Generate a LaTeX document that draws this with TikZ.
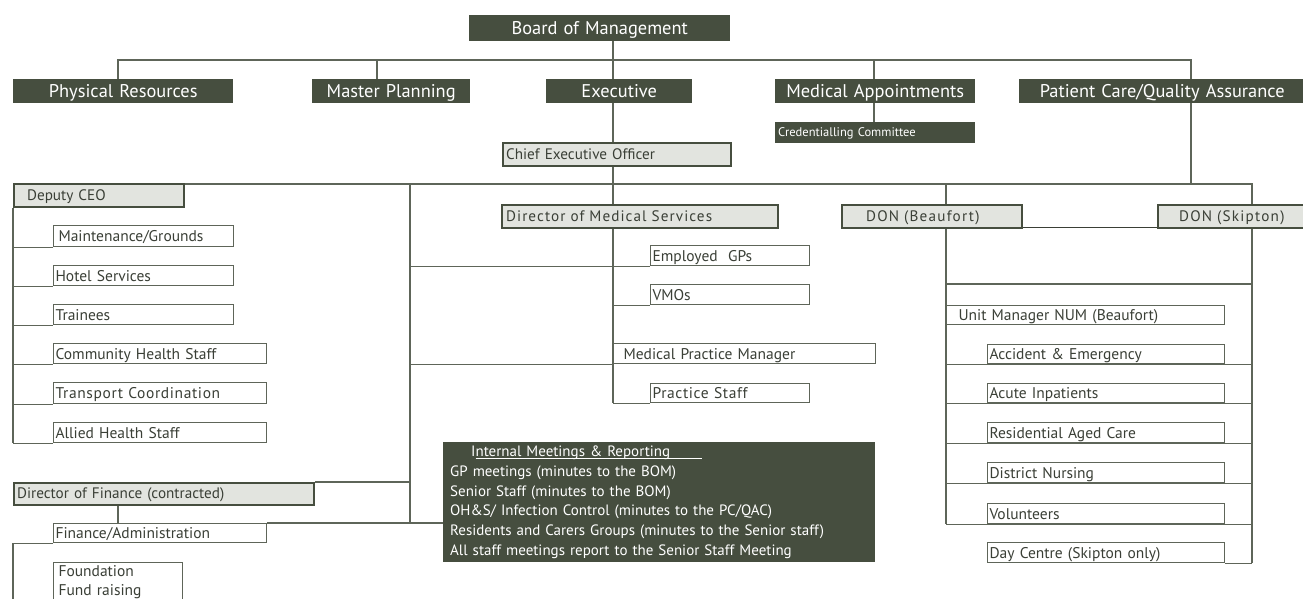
\documentclass[tikz,border=0pt]{standalone}
\usepackage{fontspec}
\setmainfont{PT Sans}
\usetikzlibrary{backgrounds}
\definecolor{darkbox}{HTML}{464E3F}
\definecolor{lightfill}{HTML}{E2E4DF}
\definecolor{linegray}{HTML}{5E6559}
\definecolor{txtgray}{HTML}{3A3F36}
\tikzset{
  base/.style={anchor=north west, inner xsep=0pt, inner ysep=0pt},
  dbox/.style={base, fill=darkbox, text=white, align=center, text height=14pt, text depth=2pt, font=\fontsize{18.4}{20}\selectfont},
  dsmall/.style={base, fill=darkbox, text=white, align=left, text height=10pt, text depth=2pt, font=\fontsize{12.5}{14}\selectfont},
  lbox/.style={base, fill=lightfill, draw=darkbox, line width=2.2pt, text=txtgray, align=left, text height=12pt, text depth=3pt, font=\fontsize{15.2}{17}\selectfont},
  wbox/.style={base, fill=white, draw=linegray, line width=1.1pt, text=txtgray, align=left, text height=12.5pt, text depth=1.5pt, font=\fontsize{15.5}{17}\selectfont},
  fbox/.style={base, fill=white, draw=linegray, line width=1.1pt, text=txtgray, align=left, font=\fontsize{15.5}{19}\selectfont},
  infobox/.style={base, fill=darkbox, text=white, align=left, font=\fontsize{15}{19.8}\selectfont},
  conn/.style={draw=linegray, line width=1.1pt},
}
% name, style, x1, y1, x2, y2, indent, text
\newcommand\bx[8]{%
  \pgfmathsetmacro\bxw{#5-#3}%
  \pgfmathsetmacro\bxh{#6-#4}%
  \node[#2, text width=\bxw pt, minimum height=\bxh pt] (#1) at (#3,#4) {\hspace*{#7pt}#8};%
}
\begin{document}
\begin{tikzpicture}[x=1pt,y=-1pt]
\useasboundingbox (0,0) rectangle (1303,599);
\clip (0,0) rectangle (1303,599);
% guide coordinates
\coordinate (sp) at (613,0);
\coordinate (xPR) at (118,0);
\coordinate (xMP) at (377,0);
\coordinate (xMA) at (874,0);
\coordinate (xPC) at (1191,0);
\coordinate (xL) at (13,0);
\coordinate (xM) at (410,0);
\coordinate (xB) at (946,0);
\coordinate (xS) at (1252,0);
\coordinate (yBus) at (0,60);
\coordinate (yBus2) at (0,184);
\coordinate (yR) at (0,284);
% top levels
\bx{board}{dbox}{469}{15}{730}{41}{0}{Board of Management}
\bx{phys}{dbox}{13}{79}{233}{103}{0}{Physical Resources}
\bx{mplan}{dbox}{312}{79}{470}{103}{0}{Master Planning}
\bx{exec}{dbox}{546}{79}{692}{103}{0}{Executive}
\bx{medapp}{dbox}{775}{79}{975}{103}{0}{Medical Appointments}
\bx{pcqa}{dbox}{1019}{79}{1305}{103}{0}{Patient Care/Quality Assurance}
\bx{cred}{dsmall}{775}{122}{975}{143}{3}{Credentialling Committee}
% light boxes
\bx{ceo}{lbox}{502}{142}{730}{165}{3}{Chief Executive Officer}
\bx{dceo}{lbox}{13}{183}{183}{206}{13}{Deputy CEO}
\bx{dms}{lbox}{501}{204}{777}{227}{4}{\addfontfeatures{LetterSpace=7}Director of Medical Services}
\bx{donb}{lbox}{841}{204}{1021}{227}{24}{\addfontfeatures{LetterSpace=8}DON (Beaufort)}
\bx{dons}{lbox}{1157}{204}{1305}{227}{21}{\addfontfeatures{LetterSpace=8}DON (Skipton)}
\bx{dfin}{lbox}{13}{482}{313}{504}{3}{Director of Finance (contracted)}
% deputy CEO column
\bx{maint}{wbox}{53}{225}{233}{246}{5}{Maintenance/Grounds}
\bx{hotel}{wbox}{53}{265}{233}{285}{2}{Hotel Services}
\bx{train}{wbox}{53}{304}{233}{324}{2}{Trainees}
\bx{comm}{wbox}{53}{343}{266}{363}{2}{Community Health Staff}
\bx{trans}{wbox}{53}{382}{266}{403}{2}{\addfontfeatures{LetterSpace=4}Transport Coordination}
\bx{allied}{wbox}{53}{422}{266}{442}{2}{Allied Health Staff}
\bx{fin}{wbox}{53}{523}{266}{542}{2}{Finance/Administration}
\node[fbox, text width=129pt, minimum height=39pt] (found) at (53,562) {\hspace*{5pt}Foundation\\\hspace*{5pt}Fund raising};
% medical column
\bx{egp}{wbox}{650}{245}{809}{265}{2}{Employed\ \ GPs}
\bx{vmo}{wbox}{650}{284}{809}{304}{2}{VMOs}
\bx{mpm}{wbox}{613}{343}{875}{363}{10}{Medical Practice Manager}
\bx{pstaff}{wbox}{650}{383}{809}{402}{2}{\addfontfeatures{LetterSpace=4}Practice Staff}
% nursing column
\bx{num}{wbox}{946}{305}{1224}{324}{12}{Unit Manager NUM (Beaufort)}
\bx{ae}{wbox}{987}{344}{1224}{363}{2}{Accident \& Emergency}
\bx{acute}{wbox}{987}{383}{1224}{402}{2}{Acute Inpatients}
\bx{resid}{wbox}{987}{422}{1224}{442}{2}{Residential Aged Care}
\bx{district}{wbox}{987}{462}{1224}{482}{2}{District Nursing}
\bx{volun}{wbox}{987}{503}{1224}{523}{2}{Volunteers}
\bx{dayc}{wbox}{987}{542}{1224}{562}{2}{Day Centre (Skipton only)}
% info box
\node[infobox, text width=432pt, minimum height=120pt] (info) at (443,442)
 {\hspace*{7pt}\hspace*{21pt}I\rlap{\rule[-2pt]{226pt}{0.9pt}}nternal Meetings \& Reporting\\
  \hspace*{7pt}GP meetings (minutes to the BOM)\\
  \hspace*{7pt}Senior Staff (minutes to the BOM)\\
  \hspace*{7pt}OH\&S/ Infection Control (minutes to the PC/QAC)\\
  \hspace*{7pt}Residents and Carers Groups (minutes to the Senior staff)\\
  \hspace*{7pt}All staff meetings report to the Senior Staff Meeting};
% connectors
\begin{pgfonlayer}{background}
\draw[conn] (phys.north -| xPR) -- (yBus -| xPR) -- (yBus -| xPC) -- (pcqa.north -| xPC);
\draw[conn] (mplan.north -| xMP) -- (yBus -| xMP);
\draw[conn] (medapp.north -| xMA) -- (yBus -| xMA);
\draw[conn] (board.south -| sp) -- (exec.north -| sp);
\draw[conn] (medapp.south -| xMA) -- (cred.north -| xMA);
\draw[conn] (exec.south -| sp) -- (ceo.north -| sp);
\draw[conn] (pcqa.south -| xPC) -- (yBus2 -| xPC);
\draw[conn] (yBus2 -| dceo.east) -- (yBus2 -| xS) -- (dons.north -| xS);
\draw[conn] (ceo.south -| sp) -- (dms.north -| sp);
\draw[conn] (yBus2 -| xB) -- (donb.north -| xB);
\draw[conn] (yBus2 -| xM) -- (fin.north -| xM);
\draw[conn] (fin.north east) -- (fin.north east -| info.west);
\draw[conn] (egp.south -| xM) -- (egp.south west);
\draw[conn] (mpm.south -| xM) -- (mpm.south west);
\draw[conn] (dfin.north east) -- (dfin.north east -| xM);
% deputy column
\draw[conn] (dceo.south -| xL) -- (allied.south -| xL);
\foreach \b in {maint,hotel,train,comm,trans,allied}
  \draw[conn] (\b.south -| xL) -- (\b.south west);
% finance
\draw[conn] (dfin.south -| xPR) -- (fin.north -| xPR);
\draw[conn] (fin.south west) -- (fin.south -| xL) -- (found.south -| xL);
% medical
\draw[conn] (dms.south -| sp) -- (pstaff.south -| sp);
\draw[conn] (vmo.south -| sp) -- (vmo.south west);
\draw[conn] (pstaff.south -| sp) -- (pstaff.south west);
% nursing
\draw[conn] (donb.south -| xB) -- (volun.south -| xB);
\draw[conn] (dons.south -| xS) -- (dayc.south -| xS);
\draw[conn] (yR -| xB) -- (yR -| xS);
\foreach \b in {ae,acute,resid,district,volun}
  \draw[conn] (\b.south -| xB) -- (\b.south -| xS);
\draw[conn] (dayc.south east) -- (dayc.south -| xS);
\draw[draw=txtgray, line width=1pt] ([yshift=2pt]donb.south east) -- ([yshift=2pt]dons.south west);
\end{pgfonlayer}
\end{tikzpicture}
\end{document}
